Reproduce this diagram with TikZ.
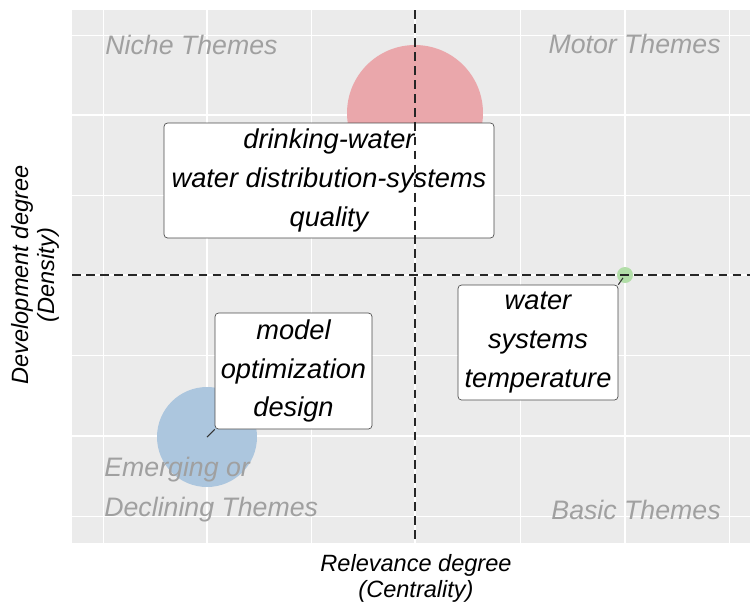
\documentclass[tikz,border=0pt]{standalone}
\usepackage{fontspec}
\setmainfont{Liberation Sans}
\usetikzlibrary{positioning}
\definecolor{panel}{RGB}{235,235,235}
\definecolor{redblob}{RGB}{234,167,171}
\definecolor{blueblob}{RGB}{172,198,222}
\definecolor{greenblob}{RGB}{178,222,168}
\definecolor{quadgray}{RGB}{160,160,160}

\begin{document}
\begin{tikzpicture}[x=0.02cm,y=-0.02cm]

    \useasboundingbox (0,0) rectangle (750,606);
    \fill[panel] (72,10) rectangle (750,543);
    \foreach \x in {103,311,520,729} \draw[white,line width=0.5pt] (\x,10) -- (\x,543);
    \foreach \y in {35,195,355,516} \draw[white,line width=0.5pt] (72,\y) -- (750,\y);
    \foreach \x in {207,415,625} \draw[white,line width=1.1pt] (\x,10) -- (\x,543);
    \foreach \y in {115,275,436} \draw[white,line width=1.1pt] (72,\y) -- (750,\y);

    \begin{scope}[every node/.style={circle,inner sep=0pt}]
        \node[fill=redblob, minimum size=2.72cm] (1) at (415,113) {};
        \node[fill=blueblob, minimum size=2cm] (2) at (207,437) {};
        \node[fill=greenblob, minimum size=0.32cm] (3) at (625,275) {};
    \end{scope}

    \begin{scope}[every node/.style={text=quadgray,inner sep=0pt,font=\fontsize{15.2}{22.7}\selectfont\itshape}]
        \node[anchor=west] (niche) at (105,45) {Niche Themes};
        \node[anchor=east] (motor) at (721,44) {Motor Themes};
        \node[anchor=west,align=left] (emerging) at (104,490) {Emerging or\\Declining Themes};
        \node[anchor=east] (basic) at (721,510) {Basic Themes};
    \end{scope}

    \begin{scope}[every node/.style={draw=black!70,fill=white,rounded corners=2pt,align=center,inner sep=0pt,font=\fontsize{15.5}{22.1}\selectfont\itshape}]
        \node[minimum width=6.6cm,minimum height=2.3cm] (4) at (329,180.5) {drinking-water\\water distribution-systems\\quality};
        \node[minimum width=3.14cm,minimum height=2.32cm] (5) at (293.5,371) {model\\optimization\\design};
        \node[minimum width=3.2cm,minimum height=2.3cm] (6) at (538,342.5) {water\\systems\\temperature};
    \end{scope}

    \begin{scope}[every edge/.style={draw=black!80,semithick}]
        \path (5.south west) edge (2.center);
        \path [shorten >=2pt] (6.north east) edge (3.center);
    \end{scope}

    \draw[black!85,line width=0.8pt,dash pattern=on 5pt off 3pt] (415,10) -- (415,543);
    \draw[black!85,line width=0.8pt,dash pattern=on 5pt off 3pt] (72,275) -- (750,275);

    \node[font=\fontsize{13.4}{14.7}\selectfont\itshape,align=center] (xlab) at (416,578) {Relevance degree\\(Centrality)};
    \node[rotate=90,font=\fontsize{13.4}{14.7}\selectfont\itshape,align=center] (ylab) at (35,275) {Development degree\\(Density)};

\end{tikzpicture}
\end{document}
